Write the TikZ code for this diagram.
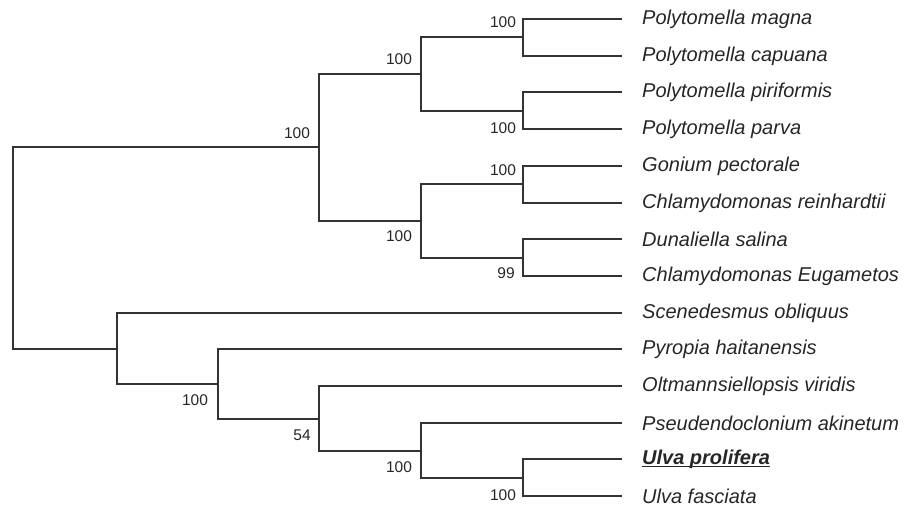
\documentclass[tikz,border=0pt]{standalone}
\usepackage{fontspec}
\setmainfont{Liberation Sans}
\begin{document}
\begin{tikzpicture}[x=1bp,y=-1bp,
  branch/.style={draw=black!80, line width=1.8bp},
  taxon/.style={anchor=west, inner sep=0pt, font=\fontsize{20bp}{24bp}\selectfont\itshape, text=black!85},
  boot/.style={inner sep=0pt, font=\fontsize{15.5bp}{18bp}\selectfont, text=black!85}]
\useasboundingbox (0,0) rectangle (904,508);

% leaf tips and taxon names
\foreach \k/\y/\name in {1/19/Polytomella magna, 2/56/Polytomella capuana,
    3/92/Polytomella piriformis, 4/129/Polytomella parva, 5/166/Gonium pectorale,
    6/203/Chlamydomonas reinhardtii, 7/239/Dunaliella salina,
    8/276/Chlamydomonas Eugametos, 9/313/Scenedesmus obliquus,
    10/349/Pyropia haitanensis, 11/386/Oltmannsiellopsis viridis,
    12/423/Pseudendoclonium akinetum, 14/496/Ulva fasciata} {
  \coordinate (e\k) at (622,\y);
  \node[taxon] (t\k) at (642,\y) {\name};
}
\coordinate (e13) at (622,459);
\node[taxon] (t13) at (642,459) {\bfseries Ulva prolifera};
\draw[draw=black!85, line width=1.7bp]
  ([yshift=-2.2bp]t13.base west) -- ([yshift=-2.2bp]t13.base east);

% internal nodes
\coordinate (mc)   at (523,37);
\coordinate (pp)   at (523,111);
\coordinate (poly) at (421,74);
\coordinate (gc)   at (523,184);
\coordinate (de)   at (523,258);
\coordinate (chl)  at (421,221);
\coordinate (big)  at (319,147);
\coordinate (ulva) at (523,478);
\coordinate (pu)   at (421,451);
\coordinate (op)   at (319,419);
\coordinate (py)   at (218,384);
\coordinate (sc)   at (117,349);
\coordinate (root) at (13,248);

% branches
\draw[branch] (root) |- (big);
\draw[branch] (root) |- (sc);
\draw[branch] (big) |- (poly);
\draw[branch] (big) |- (chl);
\draw[branch] (poly) |- (mc);
\draw[branch] (poly) |- (pp);
\draw[branch] (chl) |- (gc);
\draw[branch] (chl) |- (de);
\draw[branch] (mc) |- (e1);
\draw[branch] (mc) |- (e2);
\draw[branch] (pp) |- (e3);
\draw[branch] (pp) |- (e4);
\draw[branch] (gc) |- (e5);
\draw[branch] (gc) |- (e6);
\draw[branch] (de) |- (e7);
\draw[branch] (de) |- (e8);
\draw[branch] (sc) |- (e9);
\draw[branch] (sc) |- (py);
\draw[branch] (py) |- (e10);
\draw[branch] (py) |- (op);
\draw[branch] (op) |- (e11);
\draw[branch] (op) |- (pu);
\draw[branch] (pu) |- (e12);
\draw[branch] (pu) |- (ulva);
\draw[branch] (ulva) |- (e13);
\draw[branch] (ulva) |- (e14);

% bootstrap support
\node[boot] (b1)  at (503,22)  {100};
\node[boot] (b2)  at (503,128) {100};
\node[boot] (b3)  at (399,59)  {100};
\node[boot] (b4)  at (503,170) {100};
\node[boot] (b5)  at (506,273) {99};
\node[boot] (b6)  at (399,236) {100};
\node[boot] (b7)  at (297,133) {100};
\node[boot] (b8)  at (195,400) {100};
\node[boot] (b9)  at (302,435) {54};
\node[boot] (b10) at (399,467) {100};
\node[boot] (b11) at (503,495) {100};
\end{tikzpicture}
\end{document}
